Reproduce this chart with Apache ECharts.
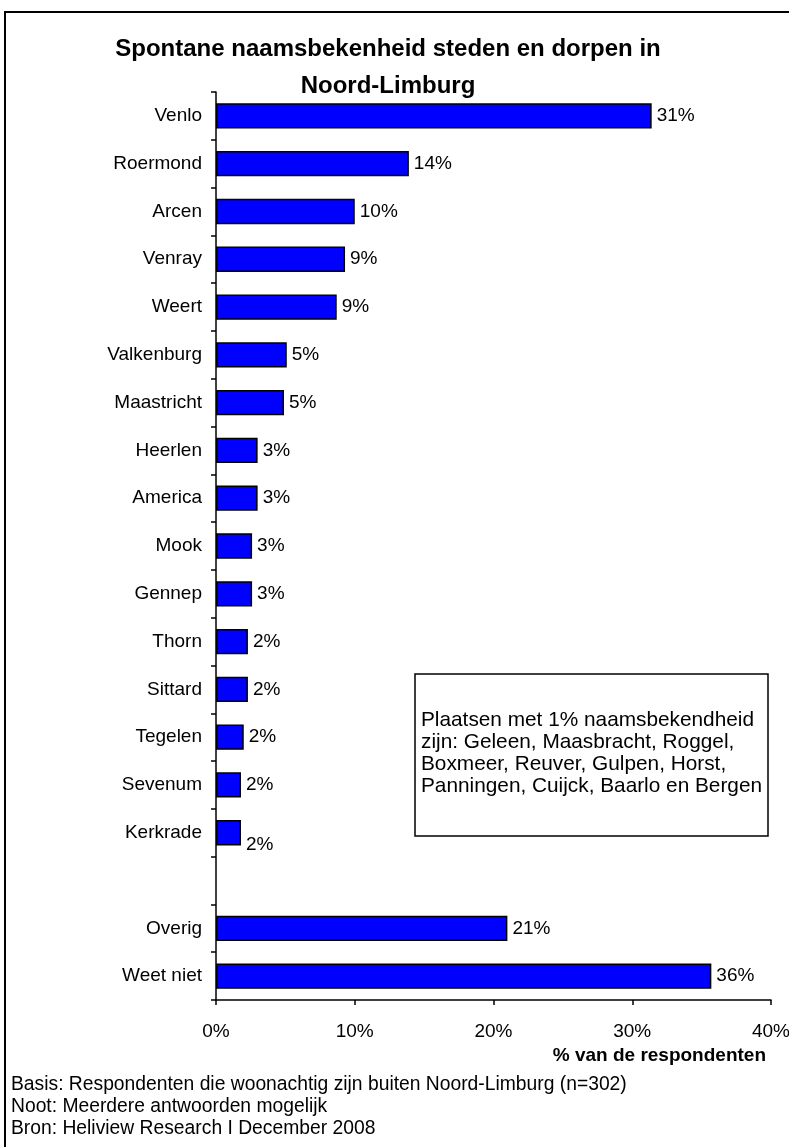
<!DOCTYPE html>
<html>
<head>
<meta charset="utf-8">
<script src="https://cdn.jsdelivr.net/npm/echarts@6/dist/echarts.min.js"></script>
<style>
  html, body { margin: 0; padding: 0; background: #ffffff; }
  #chart { width: 789px; height: 1147px; }
</style>
</head>
<body>
<div id="chart"></div>
<script>
// Places (top to bottom); the empty entry leaves a gap before the summary rows
const places = ['Venlo', 'Roermond', 'Arcen', 'Venray', 'Weert', 'Valkenburg', 'Maastricht',
  'Heerlen', 'America', 'Mook', 'Gennep', 'Thorn', 'Sittard', 'Tegelen', 'Sevenum',
  'Kerkrade', '', 'Overig', 'Weet niet'];
// Share of respondents naming each place (%)
const shares = [31.4, 13.9, 10.0, 9.3, 8.7, 5.1, 4.9, 3.0, 3.0, 2.6, 2.6, 2.3, 2.3, 2.0,
  1.8, 1.8, null, 21.0, 35.7];
// Value axis ticks
const xTicks = [0, 10, 20, 30, 40];

const titleLines = ['Spontane naamsbekenheid steden en dorpen in', 'Noord-Limburg'];
const noteLines = ['Plaatsen met 1% naamsbekendheid', 'zijn: Geleen, Maasbracht, Roggel,',
  'Boxmeer, Reuver, Gulpen, Horst,', 'Panningen, Cuijck, Baarlo en Bergen'];
const footerLines = ['Basis: Respondenten die woonachtig zijn buiten Noord-Limburg (n=302)',
  'Noot: Meerdere antwoorden mogelijk', 'Bron: Heliview Research I December 2008'];

const FONT = '"Liberation Sans", Arial, sans-serif';
const FS = 19;

const chart = echarts.init(document.getElementById('chart'), null, { renderer: 'canvas' });

const barData = shares.map((v, i) => {
  if (v === null) return '-';
  const item = { value: v };
  if (places[i] === 'Kerkrade') item.label = { offset: [0, 12] };
  return item;
});

chart.setOption({
  backgroundColor: '#ffffff',
  animation: false,
  title: {
    text: titleLines.join('\n'),
    left: 388,
    top: 31,
    padding: 0,
    textAlign: 'center',
    textStyle: { fontFamily: FONT, fontSize: 24, fontWeight: 'bold', color: '#000', lineHeight: 37 }
  },
  grid: { left: 216, right: 18, top: 92, bottom: 147, containLabel: false, outerBoundsMode: 'none' },
  xAxis: {
    type: 'value',
    min: xTicks[0],
    max: xTicks[xTicks.length - 1],
    interval: xTicks[1] - xTicks[0],
    splitLine: { show: false },
    axisLine: { show: true, lineStyle: { color: '#000', width: 1.5 } },
    axisTick: { show: true, length: 5, lineStyle: { color: '#000', width: 1.5 } },
    axisLabel: { formatter: v => v + '%', fontFamily: FONT, fontSize: FS, color: '#000', margin: 22 },
    name: '% van de respondenten',
    nameLocation: 'end',
    nameGap: 0,
    nameTextStyle: {
      fontFamily: FONT, fontSize: FS, fontWeight: 'bold', color: '#000',
      align: 'right', verticalAlign: 'top', padding: [46, 5, 0, 0]
    }
  },
  yAxis: {
    type: 'category',
    data: places,
    inverse: true,
    axisLine: { show: true, lineStyle: { color: '#000', width: 1.5 } },
    axisTick: { show: true, length: 5, alignWithLabel: false, lineStyle: { color: '#000', width: 1.5 } },
    axisLabel: { fontFamily: FONT, fontSize: FS, color: '#000', margin: 14 }
  },
  series: [{
    type: 'bar',
    data: barData,
    barCategoryGap: '47%',
    itemStyle: { color: '#0000ff', borderColor: '#000', borderWidth: 1.5 },
    label: {
      show: true,
      position: 'right',
      distance: 5,
      formatter: p => Math.round(p.value) + '%',
      fontFamily: FONT, fontSize: FS, color: '#000'
    }
  }],
  graphic: [
    // outer frame
    { type: 'rect', shape: { x: 5, y: 12, width: 800, height: 1200 },
      style: { fill: null, stroke: '#000', lineWidth: 2 }, z: 0, silent: true },
    // note box listing the 1% places
    { type: 'rect', shape: { x: 415, y: 674, width: 353, height: 162 },
      style: { fill: '#fff', stroke: '#000', lineWidth: 1.5 }, z: 10 },
    { type: 'text', x: 421, y: 753, z: 11,
      style: { text: noteLines.join('\n'), fontFamily: FONT, fontSize: 20.8, lineHeight: 22,
        fill: '#000', verticalAlign: 'middle', align: 'left' } },
    // source notes
    { type: 'text', x: 11, y: 1074, z: 11,
      style: { text: footerLines.join('\n'), fontFamily: FONT, fontSize: 19.3, lineHeight: 22,
        fill: '#000', verticalAlign: 'top', align: 'left' } }
  ]
});
</script>
</body>
</html>
